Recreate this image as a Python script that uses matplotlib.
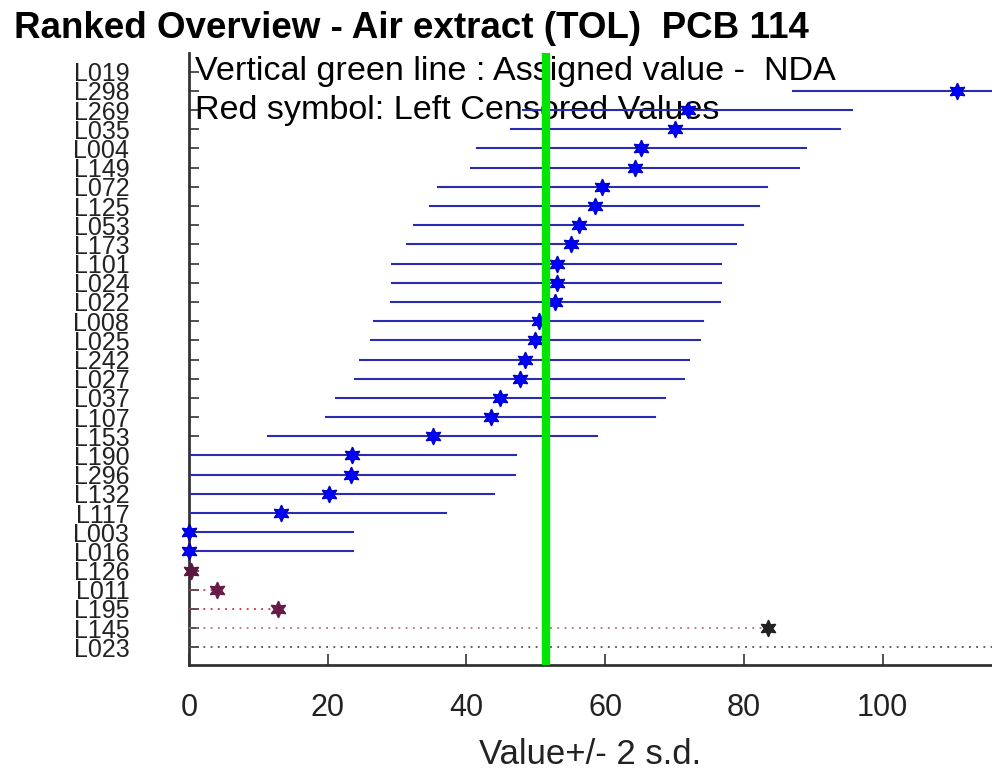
import numpy as np
import matplotlib
matplotlib.use('Agg')
from matplotlib import pyplot as plt

plt.rcParams['font.family'] = ['Liberation Sans', 'DejaVu Sans']

# ---- data (rank order, top to bottom) ----
labs = ['L019', 'L298', 'L269', 'L035', 'L004', 'L149', 'L072', 'L125', 'L053', 'L173',
        'L101', 'L024', 'L022', 'L008', 'L025', 'L242', 'L027', 'L037', 'L107', 'L153',
        'L190', 'L296', 'L132', 'L117', 'L003', 'L016', 'L126', 'L011', 'L195', 'L145', 'L023']
vals = [np.nan, 110.7, 71.9, 70.1, 65.2, 64.3, 59.6, 58.5, 56.2, 55.1,
        53.0, 53.0, 52.8, 50.4, 49.9, 48.4, 47.7, 44.9, 43.5, 35.1,
        23.5, 23.3, 20.2, 13.3, 0.0, 0.0, 0.3, 4.1, 12.9, 83.5, 125.0]   # L019 / L023 off scale
censored = [False] * 26 + [True] * 5
two_sd = 23.7          # half width of the blue bars (2 s.d.)
assigned = 51.5        # NDA, green line

cens_line_col = ['#c03040', '#c03040', '#c03040', '#b07080', '#505050']
cens_mark_col = ['#5a1840', '#6a1a4a', '#6a1a4a', '#222222', '#222222']

fig = plt.figure(figsize=(9.92, 7.75), dpi=100)
ax = fig.add_axes([189/992, 110/775, 1 - 189/992, (775 - 52.5 - 110)/775])

rows = np.arange(1, len(labs) + 1)
star = (6, 1, 0)
ci = 0
for r, v, c in zip(rows, vals, censored):
    if np.isnan(v):
        continue
    if not c:
        ax.plot([v - two_sd, v + two_sd], [r, r], color='#2b2bb0', lw=1.5, zorder=3)
        ax.plot(v, r, marker=star, ms=12, color='#0000ff', mec='#0000cc', zorder=4, clip_on=False)
    else:
        ax.plot([0, v], [r, r], color=cens_line_col[ci], lw=1.3, ls=(0, (1, 3)), zorder=3)
        ax.plot(v, r, marker=star, ms=12, color=cens_mark_col[ci], zorder=4, clip_on=False)
        ci += 1

ax.axvline(assigned, color='#00e600', lw=6, zorder=5)

ax.text(0.8, 1, 'Vertical green line : Assigned value -  NDA', fontsize=24.6, va='center', ha='left', zorder=2)
ax.text(0.8, 3, 'Red symbol: Left Censored Values', fontsize=24.6, va='center', ha='left', zorder=2)

ax.set_xlim(0, 115.75)
ax.set_ylim(31.92, 0)
ax.set_yticks(rows)
ax.set_yticklabels(labs, fontsize=18, family=['Liberation Sans Narrow', 'Liberation Sans'])
ax.set_xticks([0, 20, 40, 60, 80, 100])
ax.tick_params(axis='y', direction='in', length=7, width=1.2, pad=43, colors='#333333', labelcolor='#222222')
ax.tick_params(axis='x', direction='in', length=8, width=1.2, pad=20, labelsize=22, colors='#333333', labelcolor='#222222')
ax.set_xlabel('Value+/- 2 s.d.', fontsize=25, color='#222222', labelpad=11)

for s in ['top', 'right']:
    ax.spines[s].set_visible(False)
for s in ['left', 'bottom']:
    ax.spines[s].set_linewidth(2)
    ax.spines[s].set_color('#333333')

fig.text(14/992, 1 - 28/775, 'Ranked Overview - Air extract (TOL)  PCB 114',
         fontsize=26.5, fontweight='bold', va='center', ha='left')

plt.savefig('out.png', dpi=100)
plt.close()
